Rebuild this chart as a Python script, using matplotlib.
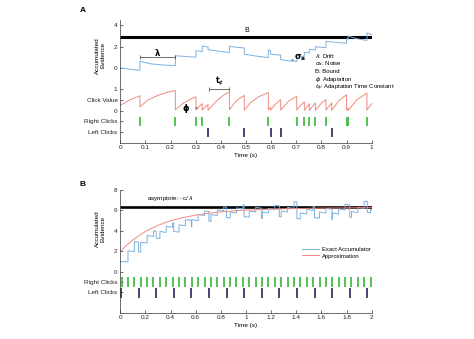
import numpy as np
import matplotlib.pyplot as plt

plt.rcParams['font.family'] = ['Liberation Sans', 'DejaVu Sans']
plt.rcParams['mathtext.fontset'] = 'dejavusans'
plt.rcParams['font.size'] = 4.6

BLUE = '#7fb1dd'
RED = '#ef8a80'
GREEN = '#35b935'
PURPLE = '#2e2160'
AXC = '#333333'

# ---------------- panel A data ----------------
a_right = [0.078, 0.219, 0.301, 0.326, 0.434, 0.589, 0.702, 0.732, 0.752,
           0.776, 0.818, 0.900, 0.906, 0.981]
a_left = [0.349, 0.493, 0.598, 0.638, 0.841]

# accumulated evidence (vertices; repeated times are click jumps)
a_ev_t = [0.0, 0.078, 0.078, 0.12, 0.16, 0.219, 0.219, 0.26, 0.301, 0.301,
          0.326, 0.326, 0.349, 0.349, 0.40, 0.434, 0.434, 0.46, 0.493, 0.493,
          0.54, 0.589, 0.589, 0.598, 0.598, 0.638, 0.638, 0.67, 0.702, 0.702,
          0.732, 0.732, 0.752, 0.752, 0.776, 0.776, 0.818, 0.818, 0.86, 0.900,
          0.900, 0.906, 0.906, 0.94, 0.981, 0.981, 1.0]
a_ev_v = [0.0, -0.22, 0.62, 0.40, 0.30, 0.22, 1.15, 1.08, 1.02, 1.62,
          1.55, 2.05, 1.98, 1.72, 1.55, 1.45, 2.05, 1.95, 1.88, 1.30,
          1.12, 0.98, 1.68, 1.65, 1.30, 1.20, 0.78, 0.68, 0.62, 1.15,
          1.08, 1.45, 1.42, 1.75, 1.70, 2.00, 1.90, 2.50, 2.40, 2.32,
          2.75, 2.72, 3.00, 2.75, 2.58, 3.28, 3.15]

# click value (adaptation) trace
a_cv_t = [0.0, 0.04, 0.078, 0.078, 0.11, 0.15, 0.19, 0.219, 0.219, 0.25,
          0.28, 0.301, 0.301, 0.315, 0.326, 0.326, 0.34, 0.349, 0.349, 0.38,
          0.41, 0.434, 0.434, 0.46, 0.493, 0.493, 0.52, 0.55, 0.589, 0.589,
          0.598, 0.598, 0.615, 0.638, 0.638, 0.67, 0.702, 0.702, 0.718, 0.732,
          0.732, 0.752, 0.752, 0.776, 0.776, 0.80, 0.818, 0.818, 0.841, 0.841,
          0.87, 0.900, 0.900, 0.906, 0.906, 0.94, 0.981, 0.981, 1.0]
a_cv_v = [0.25, 0.52, 0.70, 0.18, 0.50, 0.72, 0.87, 0.94, 0.04, 0.35,
          0.55, 0.65, 0.04, 0.22, 0.33, 0.02, 0.20, 0.29, 0.02, 0.42,
          0.72, 0.88, 0.04, 0.45, 0.72, 0.03, 0.40, 0.65, 0.85, 0.04,
          0.16, 0.02, 0.28, 0.52, 0.03, 0.45, 0.68, 0.03, 0.27, 0.42,
          0.02, 0.33, 0.02, 0.37, 0.02, 0.35, 0.52, 0.03, 0.36, 0.02,
          0.48, 0.75, 0.03, 0.12, 0.01, 0.50, 0.82, 0.03, 0.33]

bound = 2.9
a_yticks = [-6, -5, -4, -3, -2, 0, 2, 4]
a_ylabels = ['Left Clicks', 'Right Clicks', '0', 'Click Value', '1', '0', '2', '4']
a_xticks = [0, 0.1, 0.2, 0.3, 0.4, 0.5, 0.6, 0.7, 0.8, 0.9, 1]
a_xlabels = ['0', '0.1', '0.2', '0.3', '0.4', '0.5', '0.6', '0.7', '0.8', '0.9', '1']
a_notes = [r'$\lambda$: Drift', r'$\sigma_a$: Noise', 'B: Bound',
           r'$\phi$: Adaptation', r'$t_\phi$: Adaptation Time Constant']
a_notes_y = [1.15, 0.42, -0.32, -1.06, -1.86]

# ---------------- panel B data ----------------
b_right = [0.010, 0.061, 0.112, 0.162, 0.213, 0.264, 0.315, 0.366, 0.416, 0.467,
           0.518, 0.569, 0.620, 0.670, 0.721, 0.772, 0.823, 0.874, 0.924, 0.975,
           1.026, 1.077, 1.128, 1.178, 1.229, 1.280, 1.331, 1.382, 1.432, 1.483,
           1.534, 1.585, 1.636, 1.686, 1.737, 1.788, 1.839, 1.890, 1.940, 1.991]
b_left = [0.005, 0.145, 0.285, 0.425, 0.565, 0.705, 0.845, 0.985, 1.125,
          1.265, 1.405, 1.545, 1.685, 1.825, 1.965]

# exact accumulator: time of each jump, value just before and just after it
b_jump_t = [0.061, 0.112, 0.145, 0.162, 0.213, 0.264, 0.285, 0.315, 0.366, 0.416,
            0.425, 0.467, 0.518, 0.565, 0.569, 0.620, 0.670, 0.705, 0.721, 0.772,
            0.823, 0.845, 0.874, 0.924, 0.975, 0.985, 1.026, 1.077, 1.125, 1.128,
            1.178, 1.229, 1.265, 1.280, 1.331, 1.382, 1.405, 1.432, 1.483, 1.534,
            1.545, 1.585, 1.636, 1.685, 1.686, 1.737, 1.788, 1.825, 1.839, 1.890,
            1.940, 1.965, 1.991]
b_pre = [0.97, 1.98, 2.90, 1.93, 2.82, 3.45, 3.97, 3.25, 3.85, 4.35,
         4.78, 3.88, 4.50, 5.03, 4.40, 5.00, 5.50, 5.90, 4.93, 5.50,
         5.95, 6.32, 5.27, 5.75, 6.15, 6.54, 5.35, 5.85, 6.22, 5.20,
         5.75, 6.10, 6.45, 5.38, 5.85, 6.20, 6.82, 5.17, 5.65, 6.00,
         6.38, 5.25, 5.75, 6.13, 5.10, 5.65, 6.05, 6.55, 5.33, 5.80,
         6.20, 6.87, 5.77]
b_post = [2.05, 2.95, 1.95, 2.90, 3.55, 4.00, 3.30, 3.95, 4.45, 4.80,
          3.95, 4.60, 5.10, 4.40, 5.10, 5.60, 5.95, 4.95, 5.60, 6.05,
          6.35, 5.30, 5.85, 6.25, 6.55, 5.40, 5.95, 6.30, 5.20, 5.85,
          6.20, 6.50, 5.40, 5.95, 6.30, 6.85, 5.20, 5.75, 6.10, 6.40,
          5.30, 5.85, 6.20, 5.10, 5.75, 6.15, 6.60, 5.35, 5.90, 6.30,
          6.90, 5.80, 6.10]
b_start, b_end = 1.00, 6.05

# smooth approximation
b_apx_t = [0, 0.05, 0.1, 0.15, 0.2, 0.3, 0.4, 0.5, 0.6, 0.7, 0.8, 0.9, 1.0,
           1.2, 1.4, 1.6, 1.8, 2.0]
b_apx_v = [2.0, 2.6, 3.1, 3.55, 3.95, 4.55, 5.0, 5.3, 5.55, 5.73, 5.86, 5.96,
           6.03, 6.13, 6.19, 6.23, 6.25, 6.27]
asymptote = 6.3
b_yticks = [-2, -1, 0, 2, 4, 6, 8]
b_ylabels = ['Left Clicks', 'Right Clicks', '0', '2', '4', '6', '8']
b_xticks = [0, 0.2, 0.4, 0.6, 0.8, 1, 1.2, 1.4, 1.6, 1.8, 2]
b_xlabels = ['0', '0.2', '0.4', '0.6', '0.8', '1', '1.2', '1.4', '1.6', '1.8', '2']


def style_axes(ax):
    for s in ['top', 'right']:
        ax.spines[s].set_visible(False)
    for s in ['left', 'bottom']:
        ax.spines[s].set_color(AXC)
        ax.spines[s].set_linewidth(0.5)
    ax.tick_params(direction='in', length=2, width=0.5, colors=AXC,
                   labelcolor='#222222', labelsize=4.6, pad=2)


fig = plt.figure(figsize=(4.74, 3.39), dpi=100)
W, H = 474, 339

# ---------------- A ----------------
ax = fig.add_axes([120.3 / W, 1 - 142.7 / H, 251.4 / W, 122.7 / H])
style_axes(ax)
ax.set_xlim(0, 1)
ax.set_ylim(-7, 4.5)

ax.plot([0, 1], [bound, bound], color='black', lw=2.2, solid_capstyle='butt')
ax.plot(a_ev_t, a_ev_v, color=BLUE, lw=0.7)
# click value shown on its own scale below the evidence (0 -> -4, 1 -> -2)
ax.plot(a_cv_t, -4 + 2 * np.array(a_cv_v), color=RED, lw=0.7)
ax.vlines(a_right, -5.45, -4.55, color=GREEN, lw=1.2)
ax.vlines(a_left, -6.5, -5.6, color=PURPLE, lw=1.2)

ax.set_xticks(a_xticks, a_xlabels)
ax.set_yticks(a_yticks, a_ylabels)
ax.set_xlabel('Time (s)', fontsize=4.6, labelpad=1.5)
ax.text(-0.079, 1.2, 'Accumulated\nEvidence', transform=ax.get_yaxis_transform(),
        rotation=90, ha='center', va='center', fontsize=4.6, linespacing=1.0)

# annotations
ax.text(0.503, 3.5, 'B', ha='center', va='center', fontsize=5)
ax.errorbar([0.148], [1.0], xerr=[[0.070], [0.070]], color='#555555', lw=0.6,
            capsize=1.5, capthick=0.6)
ax.text(0.147, 1.42, r'$\mathbf{\lambda}$', ha='center', va='center', fontsize=6)
ax.text(0.684, 0.66, '=', ha='center', va='center', fontsize=4, color='#444444')
ax.text(0.714, 0.95, r'$\mathbf{\sigma_a}$', ha='center', va='center', fontsize=6)
ax.errorbar([0.394], [-1.96], xerr=[[0.040], [0.040]], color='#555555', lw=0.6,
            capsize=1.5, capthick=0.6)
ax.text(0.394, -1.92, r'$\mathbf{t}_{\phi}$', ha='center', va='bottom', fontsize=5.5)
ax.text(0.262, -3.8, r'$\mathbf{\phi}$', ha='center', va='center', fontsize=6)
ax.text(0.301, -3.82, '=', ha='center', va='center', fontsize=4, color='#444444')
for s, y in zip(a_notes, a_notes_y):
    ax.text(0.775, y, s, ha='left', va='center', fontsize=4.3, clip_on=False)

# ---------------- B ----------------
bx = fig.add_axes([120.3 / W, 1 - 312.7 / H, 251.4 / W, 122.7 / H])
style_axes(bx)
bx.set_xlim(0, 2)
bx.set_ylim(-4, 8)

bx.plot([0, 2], [asymptote, asymptote], color='black', lw=1.9, solid_capstyle='butt')
ex_t = [0.0]
ex_v = [b_start]
for t, p, q in zip(b_jump_t, b_pre, b_post):
    ex_t += [t, t]
    ex_v += [p, q]
ex_t.append(2.0)
ex_v.append(b_end)
bx.plot(ex_t, ex_v, color=BLUE, lw=0.7, label='Exact Accumulator')
bx.plot(b_apx_t, b_apx_v, color=RED, lw=0.7, label='Approximation')
bx.vlines(b_right, -1.5, -0.5, color=GREEN, lw=1.2)
bx.vlines(b_left, -2.55, -1.55, color=PURPLE, lw=1.2)

bx.set_xticks(b_xticks, b_xlabels)
bx.set_yticks(b_yticks, b_ylabels)
bx.set_xlabel('Time (s)', fontsize=4.6, labelpad=1.5)
bx.text(-0.079, 4.2, 'Accumulated\nEvidence', transform=bx.get_yaxis_transform(),
        rotation=90, ha='center', va='center', fontsize=4.6, linespacing=1.0)
bx.text(0.21, 7.2, r'asymptote: -c/ $\lambda$', ha='left', va='center', fontsize=4.6)
bx.legend(loc='upper left', bbox_to_anchor=(0.711, 0.56), frameon=False,
          fontsize=4.2, borderpad=0, handlelength=3.0, handletextpad=0.5,
          labelspacing=0.25)

fig.text(83 / W, 1 - 10 / H, 'A', fontsize=6, fontweight='bold', ha='center', va='center')
fig.text(83 / W, 1 - 185 / H, 'B', fontsize=6, fontweight='bold', ha='center', va='center')

fig.savefig('out.png', dpi=100)
